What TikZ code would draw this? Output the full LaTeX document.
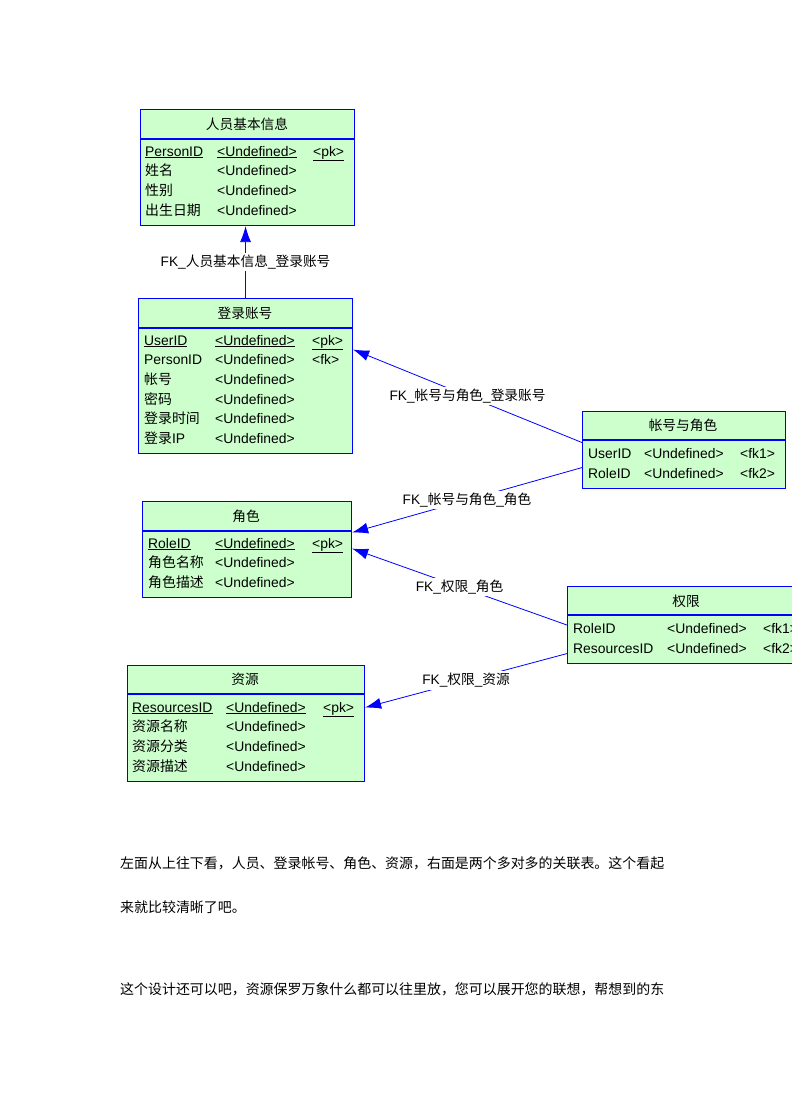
\documentclass[tikz,border=0pt]{standalone}
\usepackage{fontspec}
\setmainfont{Liberation Sans}
\newfontfamily\cjk{Noto Sans CJK SC}
\usetikzlibrary{arrows.meta}
\definecolor{tblfill}{RGB}{204,255,204}
\definecolor{tblblue}{RGB}{0,0,255}
\newcommand\cellat[4]{\node[txt] (#1) at (#2,#3+5) {#4};}
\newcommand\hdrline[2]{\draw[tblblue,line width=1.1pt] ([yshift=-#2pt]#1.north west) -- ([yshift=-#2pt]#1.north east);}
\begin{document}
\begin{tikzpicture}[x=1pt,y=-1pt,
  tbl/.style={draw=tblblue, line width=1.1pt, fill=tblfill, anchor=north west, inner sep=0pt},
  txt/.style={anchor=base west, inner sep=0pt, font=\fontsize{13.9}{16}\selectfont},
  ttl/.style={anchor=center, inner sep=0pt, font=\fontsize{13.7}{16}\selectfont\cjk},
  fk/.style={draw=tblblue, line width=0.8pt, -{Latex[length=16pt,width=11pt]}},
  lbl/.style={fill=white, inner sep=2pt, font=\fontsize{13.7}{16}\selectfont},
  para/.style={anchor=base west, inner sep=0pt, font=\fontsize{13.95}{16}\selectfont\cjk}]
\useasboundingbox (0,0) rectangle (792,1120);
\clip (0,0) rectangle (792,1120);
\fill[white] (0,0) rectangle (792,1120);

% ---------- 人员基本信息
\node[tbl, minimum width=214pt, minimum height=116pt] (person) at (140,109) {};
\hdrline{person}{30}
\node[ttl] (personT) at (247,124) {人员基本信息};
\cellat{pa1}{145}{151}{\underline{PersonID}}
\cellat{pa2}{217}{151}{\underline{<Undefined>}}
\cellat{pa3}{313}{151}{\underline{<pk>}}
\cellat{pb1}{145}{170}{{\cjk 姓名}}
\cellat{pb2}{217}{170}{<Undefined>}
\cellat{pc1}{145}{190}{{\cjk 性别}}
\cellat{pc2}{217}{190}{<Undefined>}
\cellat{pd1}{145}{210}{{\cjk 出生日期}}
\cellat{pd2}{217}{210}{<Undefined>}

% ---------- 登录账号
\node[tbl, minimum width=214pt, minimum height=155pt] (login) at (138,298) {};
\hdrline{login}{30}
\node[ttl] (loginT) at (245,313) {登录账号};
\cellat{la1}{144}{340}{\underline{UserID}}
\cellat{la2}{215}{340}{\underline{<Undefined>}}
\cellat{la3}{312}{340}{\underline{<pk>}}
\cellat{lb1}{144}{359}{PersonID}
\cellat{lb2}{215}{359}{<Undefined>}
\cellat{lb3}{312}{359}{<fk>}
\cellat{lc1}{144}{379}{{\cjk 帐号}}
\cellat{lc2}{215}{379}{<Undefined>}
\cellat{ld1}{144}{399}{{\cjk 密码}}
\cellat{ld2}{215}{399}{<Undefined>}
\cellat{le1}{144}{418}{{\cjk 登录时间}}
\cellat{le2}{215}{418}{<Undefined>}
\cellat{lf1}{144}{438}{{\cjk 登录}IP}
\cellat{lf2}{215}{438}{<Undefined>}

% ---------- 帐号与角色
\node[tbl, minimum width=203pt, minimum height=77pt] (accrole) at (582,411) {};
\hdrline{accrole}{29}
\node[ttl] (accroleT) at (683,425) {帐号与角色};
\cellat{aa1}{588}{453}{UserID}
\cellat{aa2}{644}{453}{<Undefined>}
\cellat{aa3}{740}{453}{<fk1>}
\cellat{ab1}{588}{473}{RoleID}
\cellat{ab2}{644}{473}{<Undefined>}
\cellat{ab3}{740}{473}{<fk2>}

% ---------- 角色
\node[tbl, minimum width=209pt, minimum height=96pt] (role) at (142,501) {};
\hdrline{role}{30}
\node[ttl] (roleT) at (246,516) {角色};
\cellat{ra1}{148}{543}{\underline{RoleID}}
\cellat{ra2}{215}{543}{\underline{<Undefined>}}
\cellat{ra3}{312}{543}{\underline{<pk>}}
\cellat{rb1}{148}{562}{{\cjk 角色名称}}
\cellat{rb2}{215}{562}{<Undefined>}
\cellat{rc1}{148}{582}{{\cjk 角色描述}}
\cellat{rc2}{215}{582}{<Undefined>}

% ---------- 权限
\node[tbl, minimum width=243pt, minimum height=77pt] (perm) at (567,586) {};
\hdrline{perm}{29}
\node[ttl] (permT) at (686,601) {权限};
\cellat{ma1}{573}{628}{RoleID}
\cellat{ma2}{667}{628}{<Undefined>}
\cellat{ma3}{763}{628}{<fk1>}
\cellat{mb1}{573}{648}{ResourcesID}
\cellat{mb2}{667}{648}{<Undefined>}
\cellat{mb3}{763}{648}{<fk2>}

% ---------- 资源
\node[tbl, minimum width=237pt, minimum height=116pt] (res) at (127,665) {};
\hdrline{res}{29}
\node[ttl] (resT) at (245,679) {资源};
\cellat{sa1}{132}{707}{\underline{ResourcesID}}
\cellat{sa2}{226}{707}{\underline{<Undefined>}}
\cellat{sa3}{323}{707}{\underline{<pk>}}
\cellat{sb1}{132}{726}{{\cjk 资源名称}}
\cellat{sb2}{226}{726}{<Undefined>}
\cellat{sc1}{132}{746}{{\cjk 资源分类}}
\cellat{sc2}{226}{746}{<Undefined>}
\cellat{sd1}{132}{766}{{\cjk 资源描述}}
\cellat{sd2}{226}{766}{<Undefined>}

% ---------- connectors
\draw[fk] (login.north) -- node[lbl] (l0) {FK\_{\cjk 人员基本信息}\_{\cjk 登录账号}} (login.north |- person.south);
\draw[fk] ([yshift=7.5pt]accrole.west) -- node[lbl] (l1) {FK\_{\cjk 帐号与角色}\_{\cjk 登录账号}} ([yshift=26.5pt]login.east);
\draw[fk] ([yshift=-17.5pt]accrole.west) -- node[lbl] (l2) {FK\_{\cjk 帐号与角色}\_{\cjk 角色}} ([yshift=17pt]role.east);
\draw[fk] (perm.west) -- node[lbl] (l3) {FK\_{\cjk 权限}\_{\cjk 角色}} ([yshift=1pt]role.east);
\draw[fk] ([yshift=-28.5pt]perm.west) -- node[lbl] (l4) {FK\_{\cjk 权限}\_{\cjk 资源}} ([yshift=16pt]res.east);

% ---------- paragraph
\node[para] (t1) at (120,868) {左面从上往下看，人员、登录帐号、角色、资源，右面是两个多对多的关联表。这个看起};
\node[para] (t2) at (120,912) {来就比较清晰了吧。};
\node[para] (t3) at (120,994) {这个设计还可以吧，资源保罗万象什么都可以往里放，您可以展开您的联想，帮想到的东};
\end{tikzpicture}
\end{document}
